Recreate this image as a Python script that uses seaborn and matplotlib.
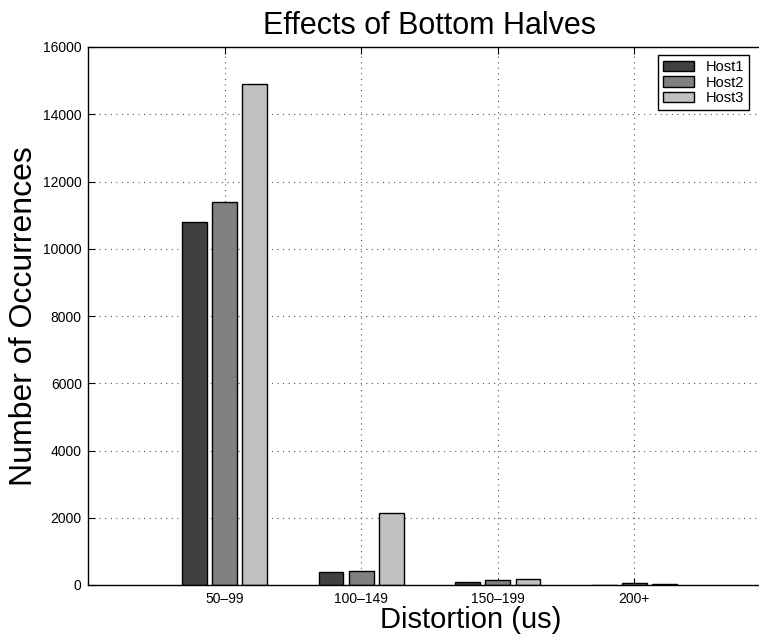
import matplotlib
matplotlib.use("Agg")
import matplotlib.pyplot as plt
import seaborn as sns
import pandas as pd

categories = ["50\u201399", "100\u2013149", "150\u2013199", "200+"]
hosts = ["Host1", "Host2", "Host3"]
host1 = [10800, 400, 100, 10]
host2 = [11400, 420, 140, 50]
host3 = [14900, 2150, 180, 30]
yticks = [0, 2000, 4000, 6000, 8000, 10000, 12000, 14000, 16000]
colors = ["#404040", "#808080", "#c0c0c0"]

rows = []
for h, vals in zip(hosts, [host1, host2, host3]):
    for c, v in zip(categories, vals):
        rows.append({"Distortion": c, "Host": h, "Count": v})
df = pd.DataFrame(rows)

sns.set_style("ticks")
plt.rcParams["font.family"] = ["Liberation Sans", "DejaVu Sans"]
plt.rcParams["text.color"] = "black"
plt.rcParams["axes.labelcolor"] = "black"
plt.rcParams["xtick.color"] = "black"
plt.rcParams["ytick.color"] = "black"

fig = plt.figure(figsize=(7.59, 6.39), dpi=100)
W, H = 759, 639
left, right, top, bottom = 88, 771, 47, 585
ax = fig.add_axes([left / W, 1 - bottom / H, (right - left) / W, (bottom - top) / H])

sns.barplot(data=df, x="Distortion", y="Count", hue="Host", order=categories,
            hue_order=hosts, palette=colors, width=0.66, gap=0.18,
            edgecolor="black", linewidth=1.0, saturation=1, ax=ax, legend=True,
            errorbar=None)

ax.set_xlim(-1, 4)
ax.set_ylim(0, 16000)
ax.set_yticks(yticks)
ax.set_yticklabels([str(v) for v in yticks])
ax.grid(True, linestyle=(0, (1, 4)), color="#555555", linewidth=0.8)
ax.set_axisbelow(True)
for name, s in ax.spines.items():
    s.set_visible(name != "right")
    s.set_color("black")
    s.set_linewidth(1.0)
ax.tick_params(direction="in", length=5, width=0.8, top=True, right=False,
               labelsize=10, colors="black")
ax.tick_params(axis="y", pad=4.5)
ax.tick_params(axis="x", pad=5)

ax.set_xlabel("Distortion (us)", fontsize=21, labelpad=0)
ax.xaxis.set_label_coords((471 - left) / (right - left), (bottom - 628) / (bottom - top))
ax.xaxis.label.set_va("baseline")
ax.set_ylabel("Number of Occurrences", fontsize=23, labelpad=3)
ax.set_title("Effects of Bottom Halves", fontsize=22, pad=0,
             y=(bottom - 34) / (bottom - top), va="baseline")

handles, labels = ax.get_legend_handles_labels()
ax.legend(handles, labels, loc="upper left",
          bbox_to_anchor=(658 / W, 1 - 55 / H), bbox_transform=fig.transFigure,
          fancybox=False, edgecolor="black", framealpha=1, fontsize=10.5,
          handlelength=2.1, handleheight=0.75, handletextpad=0.8,
          labelspacing=0.1, borderpad=0.35, borderaxespad=0)
ax.get_legend().get_frame().set_linewidth(1.0)

fig.savefig("out.png", dpi=100)
